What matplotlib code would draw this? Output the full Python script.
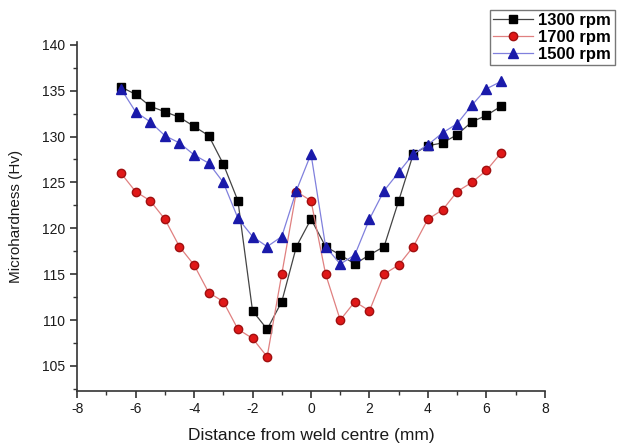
import matplotlib
matplotlib.use('Agg')
import matplotlib.pyplot as plt
import numpy as np
from matplotlib.ticker import MultipleLocator

plt.rcParams['font.family'] = ['Liberation Sans', 'DejaVu Sans']
plt.rcParams['axes.unicode_minus'] = False

# distance from weld centre (mm)
dist = [-6.5, -6, -5.5, -5, -4.5, -4, -3.5, -3, -2.5, -2, -1.5, -1, -0.5, 0,
        0.5, 1, 1.5, 2, 2.5, 3, 3.5, 4, 4.5, 5, 5.5, 6, 6.5]

# microhardness (Hv)
hv_1300 = [135.4, 134.6, 133.3, 132.7, 132.1, 131.1, 130.1, 127.0, 123.0, 111.0, 109.0, 112.0, 118.0, 121.0,
           118.0, 117.1, 116.1, 117.1, 118.0, 123.0, 128.1, 129.0, 129.3, 130.2, 131.6, 132.3, 133.3]
hv_1700 = [126.0, 124.0, 123.0, 121.0, 118.0, 116.0, 113.0, 112.0, 109.0, 108.0, 106.0, 115.0, 124.0, 123.0,
           115.0, 110.0, 112.0, 111.0, 115.0, 116.0, 118.0, 121.0, 122.0, 124.0, 125.0, 126.3, 128.2]
hv_1500 = [135.2, 132.7, 131.6, 130.1, 129.3, 128.0, 127.1, 125.0, 121.1, 119.1, 118.0, 119.1, 124.1, 128.1,
           118.0, 116.1, 117.1, 121.0, 124.1, 126.1, 128.1, 129.1, 130.4, 131.4, 133.4, 135.2, 136.0]

labels = ['1300 rpm', '1700 rpm', '1500 rpm']

fig = plt.figure(figsize=(6.22, 4.47), dpi=100)
ax = fig.add_axes([0.124, 0.126, 0.752, 0.78])

ax.plot(dist, hv_1300, color='#444444', lw=0.9, marker='s', ms=5.5,
        mfc='black', mec='black', label=labels[0])
ax.plot(dist, hv_1700, color='#e08080', lw=0.9, marker='o', ms=6,
        mfc='#e01818', mec='#a01010', label=labels[1])
ax.plot(dist, hv_1500, color='#8080dd', lw=0.9, marker='^', ms=7,
        mfc='#1a1aaa', mec='#1a1aaa', label=labels[2])

ax.set_xlim(-8, 8)
ax.set_ylim(102.3, 140.3)
ax.xaxis.set_major_locator(MultipleLocator(2))
ax.xaxis.set_minor_locator(MultipleLocator(1))
ax.yaxis.set_major_locator(MultipleLocator(5))
ax.yaxis.set_minor_locator(MultipleLocator(2.5))

for s in ['top', 'right']:
    ax.spines[s].set_visible(False)
for s in ['left', 'bottom']:
    ax.spines[s].set_color('#333333')
    ax.spines[s].set_linewidth(1.2)

ax.tick_params(which='major', direction='out', length=5, width=1.2, color='#333333',
               labelsize=10, labelcolor='#1a1a1a')
ax.tick_params(which='minor', direction='out', length=3, width=1.0, color='#333333')

ax.set_xlabel('Distance from weld centre (mm)', fontsize=12.5, color='#1a1a1a', labelpad=8)
ax.set_ylabel('Microhardness (Hv)', fontsize=11, color='#1a1a1a', labelpad=14)

leg = fig.legend(loc='upper left', bbox_to_anchor=(0.788, 0.978), borderaxespad=0,
                 frameon=True, fancybox=False, handlelength=2.4, borderpad=0.2,
                 labelspacing=0.1, handletextpad=0.3, prop={'weight': 'bold', 'size': 12})
leg.get_frame().set_edgecolor('#555555')
leg.get_frame().set_linewidth(1.0)

fig.savefig('out.png', dpi=100)
